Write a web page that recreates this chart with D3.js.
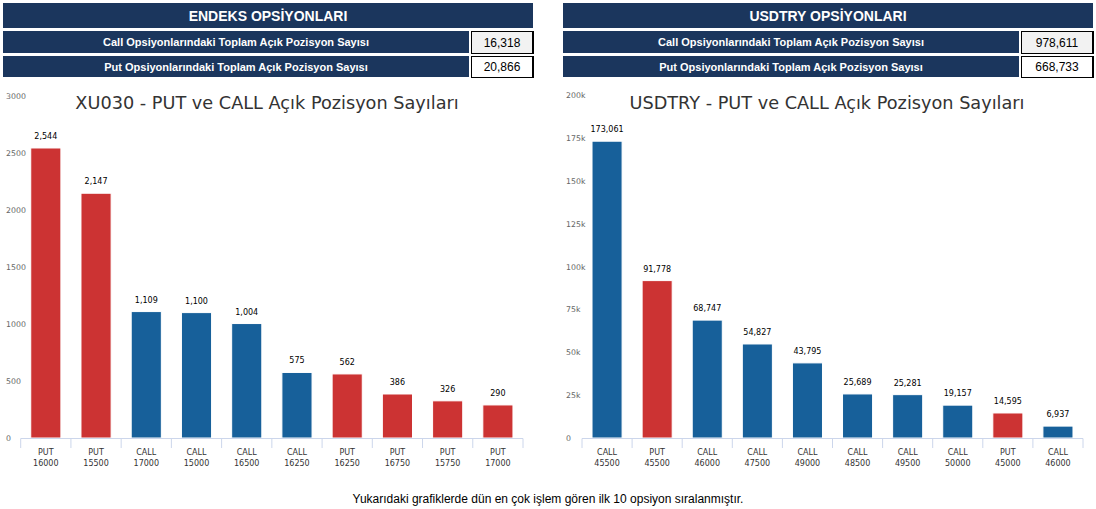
<!DOCTYPE html>
<html lang="tr">
<head>
  <meta charset="UTF-8">
  <title>Opsiyon Açık Pozisyon</title>
  <script src="https://d3js.org/d3.v7.min.js"></script>
  <style>
    body { margin:0; background:#fff; overflow:hidden; }
    svg { display:block; }
  </style>
</head>
<body>
  <script>
    // data
    const xuTypes   = ["PUT","PUT","CALL","CALL","CALL","CALL","PUT","PUT","PUT","PUT"];
    const xuStrikes = ["16000","15500","17000","15000","16500","16250","16250","16750","15750","17000"];
    const xuValues  = [2544, 2147, 1109, 1100, 1004, 575, 562, 386, 326, 290];
    const xuTicks   = [0, 500, 1000, 1500, 2000, 2500, 3000];

    const usdTypes   = ["CALL","PUT","CALL","CALL","CALL","CALL","CALL","CALL","PUT","CALL"];
    const usdStrikes = ["45500","45500","46000","47500","49000","48500","49500","50000","45000","46000"];
    const usdValues  = [173061, 91778, 68747, 54827, 43795, 25689, 25281, 19157, 14595, 6937];
    const usdTicks   = [0, 25000, 50000, 75000, 100000, 125000, 150000, 175000, 200000];

    const rowLabels = ["Call Opsiyonlarındaki Toplam Açık Pozisyon Sayısı",
                       "Put Opsiyonlarındaki Toplam Açık Pozisyon Sayısı"];
    const xuTotals  = [16318, 20866];
    const usdTotals = [978611, 668733];

    const W = 1096, H = 509;
    const NAVY = "#1b365d", RED = "#cc3333", BLUE = "#17609a";
    const fmt = d3.format(",");

    const svg = d3.select("body").append("svg")
      .attr("width", W).attr("height", H);

    // header + totals table
    function table(x0, x1, xv, title, totals) {
      const g = svg.append("g");
      g.append("rect").attr("x", x0).attr("y", 3).attr("width", x1 - x0).attr("height", 25).attr("fill", NAVY);
      g.append("text").attr("x", (x0 + x1) / 2).attr("y", 20.5)
        .attr("text-anchor", "middle").attr("fill", "#fff")
        .style("font", "bold 14px 'Liberation Sans', Arial, sans-serif").text(title);
      const rows = [[31, 53], [56, 77]];
      rows.forEach((r, i) => {
        g.append("rect").attr("x", x0).attr("y", r[0]).attr("width", xv - x0 - 2).attr("height", r[1] - r[0]).attr("fill", NAVY);
        g.append("text").attr("x", (x0 + xv - 2) / 2).attr("y", (r[0] + r[1]) / 2 + 4)
          .attr("text-anchor", "middle").attr("fill", "#fff")
          .style("font", "bold 11px 'Liberation Sans', Arial, sans-serif").text(rowLabels[i]);
        g.append("rect").attr("x", xv + 0.5).attr("y", r[0] + 0.5).attr("width", x1 - xv - 1).attr("height", r[1] - r[0])
          .attr("fill", i === 0 ? "#f2f2f2" : "#fff").attr("stroke", "#000").attr("stroke-width", 1);
        g.append("line").attr("x1", x1).attr("x2", x1).attr("y1", r[0]).attr("y2", r[1] + 1)
          .attr("stroke", "#000").attr("stroke-width", 2);
        g.append("text").attr("x", (xv + x1) / 2).attr("y", (r[0] + r[1]) / 2 + 4.5)
          .attr("text-anchor", "middle").attr("fill", "#000")
          .style("font", "12px 'Liberation Sans', Arial, sans-serif").text(fmt(totals[i]));
      });
    }
    table(3, 533, 471, "ENDEKS OPSİYONLARI", xuTotals);
    table(563, 1093, 1021, "USDTRY OPSİYONLARI", usdTotals);

    // bar charts
    function chart(opt) {
      const g = svg.append("g");
      const cats = opt.types.map((t, i) => i);
      const x = d3.scaleBand().domain(cats).range([opt.x0, opt.x1]);
      const y = d3.scaleLinear().domain([0, opt.max]).range([438, opt.top]);

      g.append("text").attr("x", opt.cx).attr("y", 109)
        .attr("text-anchor", "middle").attr("fill", "#333")
        .style("font", "17.7px 'DejaVu Sans', sans-serif").text(opt.title);

      g.selectAll(".yl").data(opt.ticks).enter().append("text")
        .attr("x", opt.yl).attr("y", d => y(d) + 3)
        .attr("fill", "#666")
        .style("font", "7.8px 'DejaVu Sans', sans-serif")
        .text(opt.tickFmt);

      g.selectAll(".bar").data(opt.values).enter().append("rect")
        .attr("x", (d, i) => x(i) + x.bandwidth() * 0.2)
        .attr("width", x.bandwidth() * 0.6)
        .attr("y", d => y(d))
        .attr("height", d => y(0) - y(d))
        .attr("fill", (d, i) => opt.types[i] === "PUT" ? RED : BLUE)
        .attr("stroke", "#fff").attr("stroke-width", 1);

      g.selectAll(".dl").data(opt.values).enter().append("text")
        .attr("x", (d, i) => x(i) + x.bandwidth() / 2)
        .attr("y", d => y(d) - 9)
        .attr("text-anchor", "middle").attr("fill", "#000")
        .attr("stroke", "#fff").attr("stroke-width", 2).attr("paint-order", "stroke")
        .style("font", "8px 'DejaVu Sans', sans-serif")
        .text(d => fmt(d));

      // x axis
      g.append("line").attr("x1", opt.x0).attr("x2", opt.x1).attr("y1", 438.5).attr("y2", 438.5)
        .attr("stroke", "#ccd6eb");
      const edges = cats.map(i => x(i)).concat([opt.x1]);
      g.selectAll(".tk").data(edges).enter().append("line")
        .attr("x1", d => d).attr("x2", d => d).attr("y1", 438.5).attr("y2", 448)
        .attr("stroke", "#ccd6eb");
      const lab = g.selectAll(".xl").data(cats).enter().append("text")
        .attr("text-anchor", "middle").attr("fill", "#333")
        .style("font", "8px 'DejaVu Sans', sans-serif");
      lab.append("tspan").attr("x", i => x(i) + x.bandwidth() / 2).attr("y", 454.5).text(i => opt.types[i]);
      lab.append("tspan").attr("x", i => x(i) + x.bandwidth() / 2).attr("y", 465.5).text(i => opt.strikes[i]);
    }

    chart({
      title: "XU030 - PUT ve CALL Açık Pozisyon Sayıları",
      types: xuTypes, strikes: xuStrikes, values: xuValues, ticks: xuTicks,
      max: 3000, top: 96, x0: 20.7, x1: 523, yl: 6, cx: 267,
      tickFmt: d => d
    });
    chart({
      title: "USDTRY - PUT ve CALL Açık Pozisyon Sayıları",
      types: usdTypes, strikes: usdStrikes, values: usdValues, ticks: usdTicks,
      max: 200000, top: 95, x0: 582, x1: 1083, yl: 566, cx: 827,
      tickFmt: d => d === 0 ? "0" : (d / 1000) + "k"
    });

    svg.append("text").attr("x", 548).attr("y", 503)
      .attr("text-anchor", "middle").attr("fill", "#000")
      .style("font", "12px 'Liberation Sans', Arial, sans-serif")
      .text("Yukarıdaki grafiklerde dün en çok işlem gören ilk 10 opsiyon sıralanmıştır.");
  </script>
</body>
</html>
